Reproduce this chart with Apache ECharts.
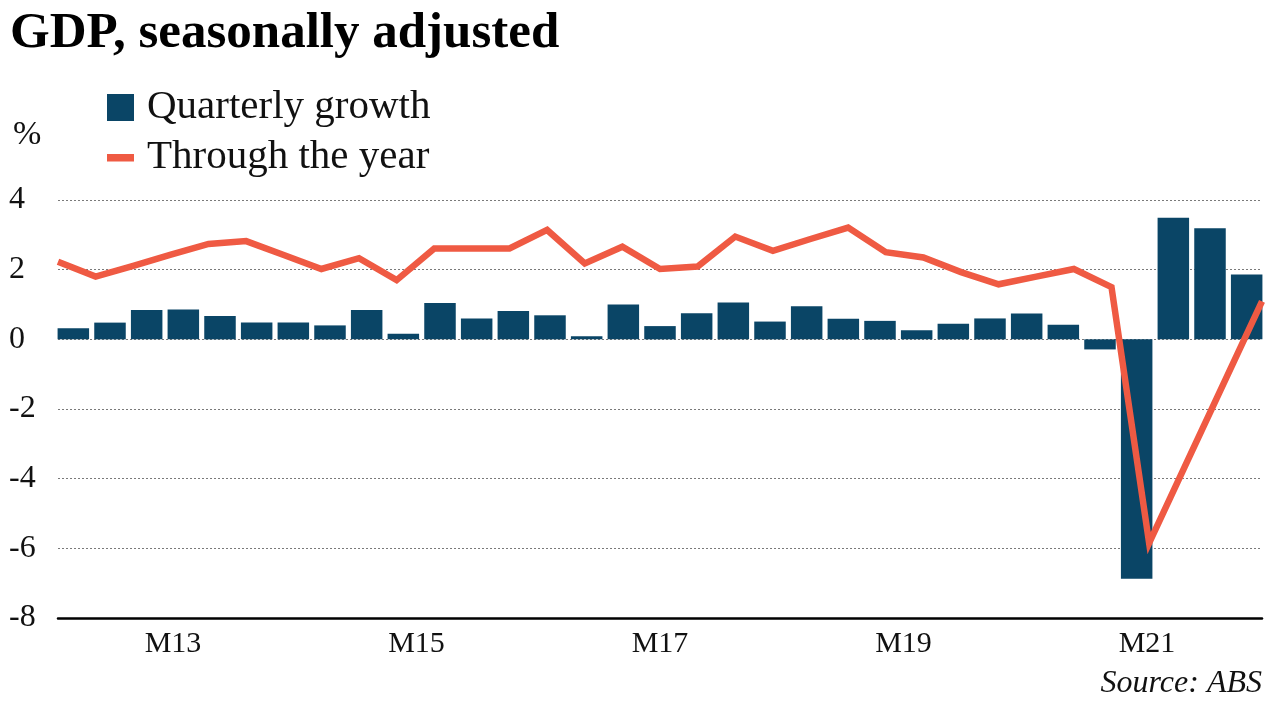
<!DOCTYPE html>
<html>
<head>
<meta charset="utf-8">
<script src="https://cdn.jsdelivr.net/npm/echarts@6/dist/echarts.min.js"></script>
<style>
html,body{margin:0;padding:0;background:#fff;}
#c{width:1280px;height:720px;}
</style>
</head>
<body>
<div id="c"></div>
<script>
// ---- data ----
const quarters = ['Mar-13','Jun-13','Sep-13','Dec-13','Mar-14','Jun-14','Sep-14','Dec-14',
  'Mar-15','Jun-15','Sep-15','Dec-15','Mar-16','Jun-16','Sep-16','Dec-16',
  'Mar-17','Jun-17','Sep-17','Dec-17','Mar-18','Jun-18','Sep-18','Dec-18',
  'Mar-19','Jun-19','Sep-19','Dec-19','Mar-20','Jun-20','Sep-20','Dec-20','Mar-21'];
const quarterlyGrowth = [0.32,0.48,0.84,0.86,0.67,0.48,0.48,0.40,0.84,0.16,1.04,0.60,0.81,0.69,0.09,1.00,
  0.38,0.75,1.06,0.51,0.95,0.59,0.53,0.26,0.45,0.60,0.74,0.42,-0.29,-6.87,3.49,3.19,1.86];
const throughTheYear = [2.23,1.80,2.11,2.43,2.74,2.82,2.42,2.02,2.33,1.70,2.61,2.61,2.61,3.14,2.18,2.66,
  2.02,2.09,2.95,2.54,2.88,3.21,2.50,2.35,1.93,1.58,1.80,2.02,1.50,-5.85,-3.53,-1.22,1.09];
const xTickYears = [2013, 2015, 2017, 2019, 2021];
const yTicks = [-8, -6, -4, -2, 0, 2, 4];

const FONT = '"Liberation Serif", "DejaVu Serif", serif';
const BAR_COLOR = '#0a4566';
const LINE_COLOR = '#ef5a43';

const chart = echarts.init(document.getElementById('c'));
const gridTop = 200, gridBottom = 102;
chart.setOption({
  animation: false,
  backgroundColor: '#fff',
  title: [
    {text: 'GDP, seasonally adjusted', left: 5, top: 3,
     textStyle: {fontFamily: FONT, fontWeight: 'bold', fontSize: 51, color: '#000'}},
    {text: '%', left: 8, top: 113,
     textStyle: {fontFamily: FONT, fontWeight: 'normal', fontSize: 34, color: '#111'}},
    {text: 'Source: ABS', right: 13, top: 663,
     textStyle: {fontFamily: FONT, fontWeight: 'normal', fontStyle: 'italic', fontSize: 32, color: '#111'}}
  ],
  legend: {
    orient: 'vertical', left: 102, top: 82, itemGap: 9,
    itemWidth: 27, itemHeight: 27,
    textStyle: {fontFamily: FONT, fontSize: 41, color: '#111', padding: [0,0,0,8]},
    data: [
      {name: 'Quarterly growth', icon: 'rect'},
      {name: 'Through the year', icon: 'path://M0,0 L0.01,0 Z M0,10 L27,10 L27,17.5 L0,17.5 Z M27,27 L26.99,27 Z'}
    ]
  },
  grid: [
    {left: 55, right: 15, top: gridTop, bottom: gridBottom},
    {left: 58, right: 18, top: gridTop, bottom: gridBottom},
    {left: 55, right: 15, top: gridTop, bottom: gridBottom}
  ],
  xAxis: [
    {type: 'category', gridIndex: 0, data: quarters, boundaryGap: true,
     axisLine: {show: false}, axisTick: {show: false}, axisLabel: {show: false}},
    {type: 'category', gridIndex: 1, data: quarters, boundaryGap: false,
     axisLine: {show: true, onZero: false, lineStyle: {color: '#000', width: 2.5}},
     axisTick: {show: false}, axisLabel: {show: false}},
    {type: 'value', gridIndex: 2, min: 2012.031, max: 2021.969,
     axisLine: {show: false}, axisTick: {show: false}, splitLine: {show: false},
     axisLabel: {show: true, customValues: xTickYears, margin: 11,
       fontFamily: FONT, fontSize: 30, color: '#111',
       formatter: v => 'M' + String(v).slice(2)}}
  ],
  yAxis: [
    {type: 'value', gridIndex: 0, min: -8, max: 4, interval: 2, show: false},
    {type: 'value', gridIndex: 1, min: -8, max: 4, interval: 2,
     axisLine: {show: false}, axisTick: {show: false},
     splitLine: {show: true, lineStyle: {color: '#7a7a7a', type: [2, 2], width: 1}},
     axisLabel: {show: true, align: 'left', margin: 49, fontFamily: FONT, fontSize: 32, color: '#111',
       customValues: yTicks}},
    {type: 'value', gridIndex: 2, min: -8, max: 4, show: false}
  ],
  series: [
    {name: 'Quarterly growth', type: 'bar', xAxisIndex: 0, yAxisIndex: 0,
     data: quarterlyGrowth, barWidth: 31.5, itemStyle: {color: BAR_COLOR}, z: 3},
    {name: 'Through the year', type: 'line', xAxisIndex: 1, yAxisIndex: 1,
     data: throughTheYear, symbol: 'none', z: 4,
     lineStyle: {color: LINE_COLOR, width: 6.5, join: 'miter'}, itemStyle: {color: LINE_COLOR}}
  ]
});
</script>
</body>
</html>
